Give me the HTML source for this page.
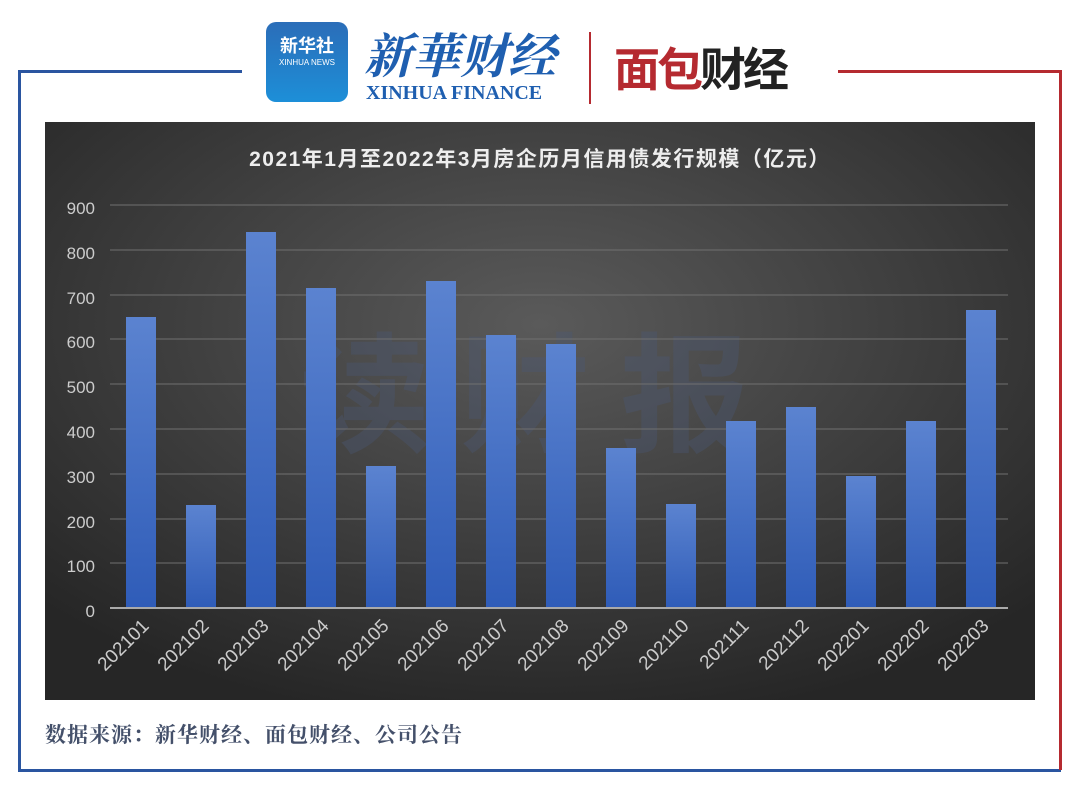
<!DOCTYPE html>
<html><head><meta charset="utf-8"><style>
body{margin:0;width:1080px;height:791px;background:#fff;position:relative;overflow:hidden;font-family:"Liberation Sans","Noto Sans CJK SC",sans-serif}
.a{position:absolute}
</style></head><body>
<div class="a" style="left:18px;top:70px;width:224px;height:3px;background:#2a55a0"></div>
<div class="a" style="left:18px;top:70px;width:3px;height:702px;background:#2a55a0"></div>
<div class="a" style="left:18px;top:769px;width:1043px;height:3px;background:#2a55a0"></div>
<div class="a" style="left:838px;top:70px;width:224px;height:3px;background:#b52a30"></div>
<div class="a" style="left:1059px;top:70px;width:3px;height:700px;background:#b52a30"></div>
<div class="a" style="left:266px;top:22px;width:82px;height:80px;border-radius:10px;background:linear-gradient(#2b6db8,#1d8fd8);color:#fff;text-align:center;font-size:18px;font-weight:bold;padding-top:10px;box-sizing:border-box">新华社<div style="font-size:8px;font-weight:normal">XINHUA NEWS</div></div>
<div class="a" style="left:364px;top:18px;font-size:48px;color:#1f5fb0;font-style:italic;font-family:'Noto Serif CJK SC',serif;font-weight:bold">新華财经</div>
<div class="a" style="left:366px;top:82px;font-size:20px;color:#1f5fb0;font-family:'Liberation Serif',serif;font-weight:bold">XINHUA FINANCE</div>
<div class="a" style="left:589px;top:32px;width:2px;height:72px;background:#b52a30"></div>
<div class="a" style="left:614px;top:34px;font-size:46px;color:#b52a30;font-weight:bold;letter-spacing:-3px">面包<span style="color:#222">财经</span></div>
<svg class="a" style="left:45px;top:122px" width="990" height="578">
<defs><radialGradient id="g" cx="50%" cy="35%" r="70%"><stop offset="0" stop-color="#5a5a5a"/><stop offset="1" stop-color="#262626"/></radialGradient>
<linearGradient id="b" x1="0" y1="0" x2="0" y2="1"><stop offset="0" stop-color="#5b83d0"/><stop offset="1" stop-color="#2f5cb8"/></linearGradient></defs>
<rect width="990" height="578" fill="url(#g)"/>
<text x="495" y="320" fill="#4a5a78" fill-opacity="0.35" font-size="130" font-weight="bold" text-anchor="middle" letter-spacing="30">读财报</text>
<text x="495" y="44" fill="#eee" font-size="21" font-weight="bold" text-anchor="middle" letter-spacing="1.5">2021年1月至2022年3月房企历月信用债发行规模（亿元）</text>
<g stroke="#707070" stroke-width="1">
<line x1="65" x2="963" y1="83" y2="83"/><line x1="65" x2="963" y1="128" y2="128"/><line x1="65" x2="963" y1="173" y2="173"/><line x1="65" x2="963" y1="217" y2="217"/><line x1="65" x2="963" y1="262" y2="262"/><line x1="65" x2="963" y1="307" y2="307"/><line x1="65" x2="963" y1="352" y2="352"/><line x1="65" x2="963" y1="397" y2="397"/><line x1="65" x2="963" y1="441" y2="441"/></g>
<g fill="#ccc" font-size="17" text-anchor="end">
<text x="50" y="92">900</text><text x="50" y="137">800</text><text x="50" y="182">700</text><text x="50" y="226">600</text><text x="50" y="271">500</text><text x="50" y="316">400</text><text x="50" y="361">300</text><text x="50" y="406">200</text><text x="50" y="450">100</text><text x="50" y="495">0</text></g>
<g fill="url(#b)">
<rect x="81" y="195" width="30" height="291"/><rect x="141" y="383" width="30" height="103"/><rect x="201" y="110" width="30" height="376"/><rect x="261" y="166" width="30" height="320"/><rect x="321" y="344" width="30" height="142"/><rect x="381" y="159" width="30" height="327"/><rect x="441" y="213" width="30" height="273"/><rect x="501" y="222" width="30" height="264"/><rect x="561" y="326" width="30" height="160"/><rect x="621" y="382" width="30" height="104"/><rect x="681" y="299" width="30" height="187"/><rect x="741" y="285" width="30" height="201"/><rect x="801" y="354" width="30" height="132"/><rect x="861" y="299" width="30" height="187"/><rect x="921" y="188" width="30" height="298"/></g>
<line x1="65" x2="963" y1="486" y2="486" stroke="#aaa" stroke-width="2"/>
<g fill="#ccc" font-size="19" text-anchor="end">
<text transform="translate(105,505) rotate(-45)">202101</text><text transform="translate(165,505) rotate(-45)">202102</text><text transform="translate(225,505) rotate(-45)">202103</text><text transform="translate(285,505) rotate(-45)">202104</text><text transform="translate(345,505) rotate(-45)">202105</text><text transform="translate(405,505) rotate(-45)">202106</text><text transform="translate(465,505) rotate(-45)">202107</text><text transform="translate(525,505) rotate(-45)">202108</text><text transform="translate(585,505) rotate(-45)">202109</text><text transform="translate(645,505) rotate(-45)">202110</text><text transform="translate(705,505) rotate(-45)">202111</text><text transform="translate(765,505) rotate(-45)">202112</text><text transform="translate(825,505) rotate(-45)">202201</text><text transform="translate(885,505) rotate(-45)">202202</text><text transform="translate(945,505) rotate(-45)">202203</text></g>
</svg>
<div class="a" style="left:45px;top:719px;font-size:21px;font-weight:bold;color:#44506a;font-family:'Noto Serif CJK SC',serif;letter-spacing:1px">数据来源：新华财经、面包财经、公司公告</div>
</body></html>
